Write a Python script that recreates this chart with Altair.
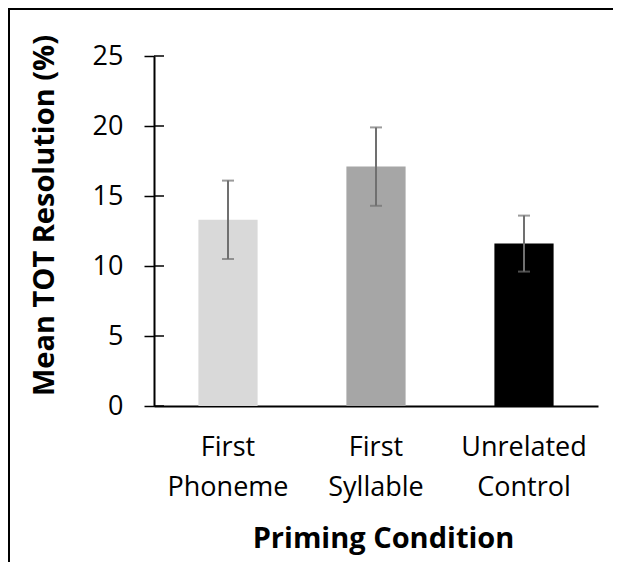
import altair as alt
import pandas as pd

conditions = ["First Phoneme", "First Syllable", "Unrelated Control"]
means = [13.3, 17.1, 11.6]
errors = [2.8, 2.8, 2.0]
bar_colors = ["#d9d9d9", "#a6a6a6", "#000000"]
y_ticks = [0, 5, 10, 15, 20, 25]

df = pd.DataFrame({"cond": conditions, "mean": means, "err": errors})
df["lo"] = df["mean"] - df["err"]
df["hi"] = df["mean"] + df["err"]
ticks_df = pd.DataFrame({"mean": y_ticks})

W, H = 444, 350
PAD_R, PAD_B = 15, 156
FONT = "Open Sans"

x_axis = alt.Axis(
    title="Priming Condition", labelExpr="split(datum.label, ' ')", labelAngle=0,
    labelFontSize=27, labelFont=FONT, labelColor="black", labelPadding=28,
    labelLineHeight=40, labelBaseline="top", ticks=False, domainColor="black",
    domainWidth=2, titleFontSize=29, titleFont=FONT, titleFontWeight="bold",
    titleColor="black", titleX=229, titleY=141, titleAlign="center",
    titleBaseline="alphabetic",
)
y_axis = alt.Axis(
    values=y_ticks, title="Mean TOT Resolution (%)", grid=False, tickSize=10,
    tickColor="black", tickWidth=1.5, domainColor="black", domainWidth=2,
    labelFontSize=27, labelFont=FONT, labelColor="black", labelPadding=21,
    titleFontSize=29, titleFont=FONT, titleFontWeight="bold", titleColor="black",
    titleX=-101, titleY=159, titleAlign="center", titleBaseline="alphabetic",
)
x_scale = alt.Scale(paddingInner=0.6, paddingOuter=0.3)
y_scale = alt.Scale(domain=[0, 25], nice=False)

X = alt.X("cond:N", sort=conditions, scale=x_scale, axis=x_axis)

bars = alt.Chart(df).mark_bar().encode(
    x=X,
    y=alt.Y("mean:Q", scale=y_scale, axis=y_axis),
    color=alt.Color("cond:N", scale=alt.Scale(domain=conditions, range=bar_colors), legend=None),
)
err = alt.Chart(df).mark_rule(color="#707070", strokeWidth=2).encode(
    x=X,
    y=alt.Y("lo:Q", scale=y_scale, axis=y_axis),
    y2="hi:Q",
)
cap_hi = alt.Chart(df).mark_tick(color="#707070", thickness=2, size=12).encode(
    x=X, y=alt.Y("hi:Q", scale=y_scale, axis=y_axis)
)
cap_lo = alt.Chart(df).mark_tick(color="#707070", thickness=2, size=12).encode(
    x=X, y=alt.Y("lo:Q", scale=y_scale, axis=y_axis)
)
inner_ticks = alt.Chart(ticks_df).mark_rule(color="black", strokeWidth=1.5).encode(
    y=alt.Y("mean:Q", scale=y_scale, axis=y_axis),
    x=alt.value(0), x2=alt.value(10),
)
one = alt.Data(values=[{"a": 1}])
frame_top = alt.Chart(one).mark_rule(color="black", strokeWidth=2).encode(
    x=alt.value(-146), x2=alt.value(W + PAD_R), y=alt.value(-47)
)
frame_left = alt.Chart(one).mark_rule(color="black", strokeWidth=2).encode(
    x=alt.value(-145), y=alt.value(-48), y2=alt.value(H + PAD_B)
)

chart = alt.layer(bars, err, cap_hi, cap_lo, inner_ticks, frame_top, frame_left).properties(
    width=W, height=H,
    padding={"left": 146, "top": 48, "right": PAD_R, "bottom": PAD_B},
    autosize=alt.AutoSizeParams(type="none"),
).configure_view(stroke=None)

chart.save("out.html", embed_options={"renderer": "svg", "actions": False})
